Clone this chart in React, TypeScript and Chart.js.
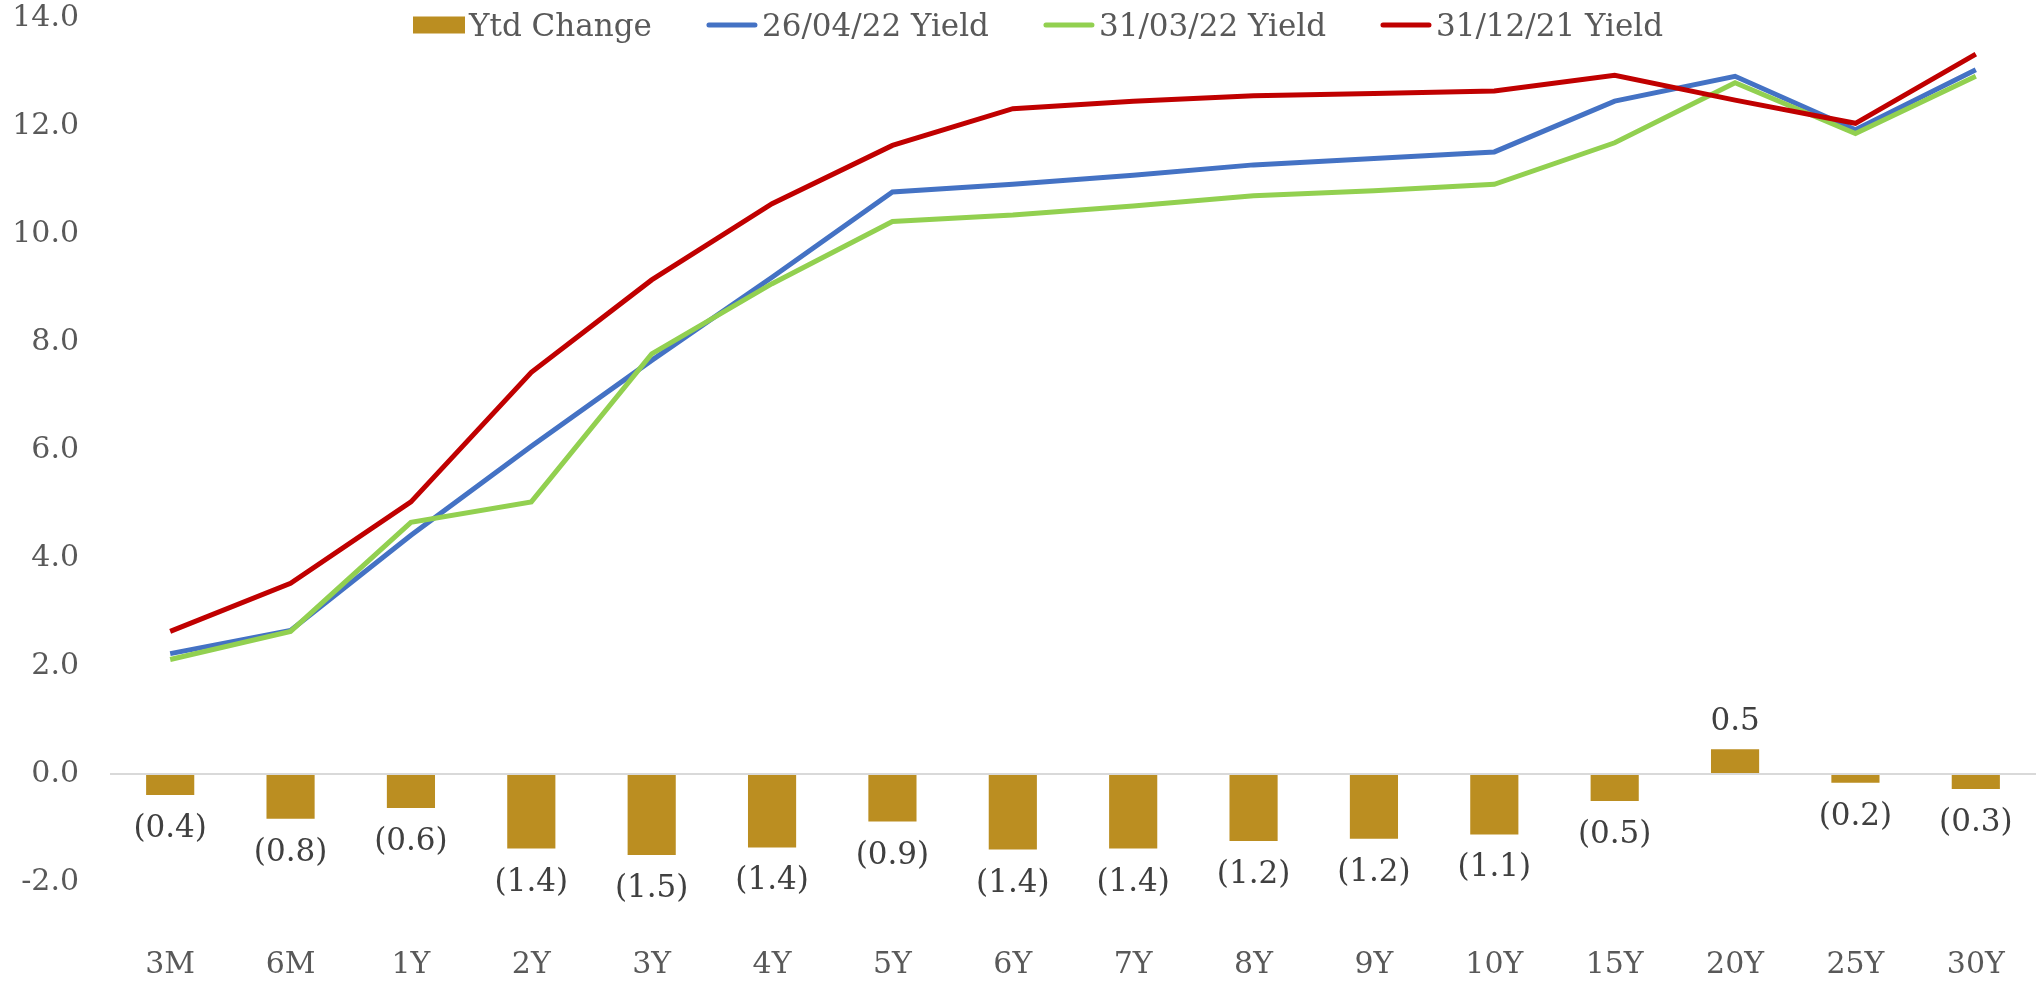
import React, { useEffect, useRef } from 'react';
import { Chart, registerables } from 'chart.js';

Chart.register(...registerables);

const categories = ['3M', '6M', '1Y', '2Y', '3Y', '4Y', '5Y', '6Y', '7Y', '8Y', '9Y', '10Y', '15Y', '20Y', '25Y', '30Y'];
const ytdChange = [-0.39, -0.83, -0.63, -1.38, -1.5, -1.36, -0.88, -1.4, -1.38, -1.24, -1.2, -1.12, -0.5, 0.46, -0.16, -0.28];
const yield260422 = [2.23, 2.66, 4.42, 6.07, 7.66, 9.2, 10.78, 10.92, 11.09, 11.28, 11.4, 11.52, 12.46, 12.92, 11.93, 13.04];
const yield310322 = [2.12, 2.64, 4.66, 5.04, 7.78, 9.08, 10.23, 10.35, 10.52, 10.71, 10.8, 10.92, 11.69, 12.8, 11.86, 12.92];
const yield311221 = [2.64, 3.53, 5.04, 7.44, 9.15, 10.56, 11.64, 12.32, 12.46, 12.56, 12.6, 12.65, 12.94, 12.48, 12.05, 13.33];
const yTicks = [-2, 0, 2, 4, 6, 8, 10, 12, 14];
const seriesLabels = ['Ytd Change', '26/04/22 Yield', '31/03/22 Yield', '31/12/21 Yield'];

const FAMILY = '"DejaVu Serif", serif';
const TEXT = '#595959';
const GOLD = '#BB8E21';
const BLUE = '#4472C4';
const GREEN = '#92D050';
const RED = '#C00000';

const fmt = (v: number) => (v < 0 ? `(${Math.abs(v).toFixed(1)})` : v.toFixed(1));

const customPlugin = {
  id: 'customDecor',
  afterDatasetsDraw(chart: any) {
    const ctx = chart.ctx;
    const meta = chart.getDatasetMeta(0);
    ctx.save();
    ctx.font = `31px ${FAMILY}`;
    ctx.fillStyle = '#404040';
    ctx.textAlign = 'center';
    ctx.textBaseline = 'alphabetic';
    meta.data.forEach((el: any, i: number) => {
      const v = ytdChange[i];
      const y = v < 0 ? el.y + 42 : el.y - 19;
      ctx.fillText(fmt(v), el.x, y);
    });
    ctx.restore();
  },
  afterDraw(chart: any) {
    const ctx = chart.ctx;
    ctx.save();
    ctx.font = `31px ${FAMILY}`;
    const sw = 52;
    const gapST = 4;
    const gapItems = 54;
    const items = chart.data.datasets.map((ds: any) => ({
      label: ds.label,
      color: ds.type === 'bar' ? ds.backgroundColor : ds.borderColor,
      isBar: ds.type === 'bar',
      w: ctx.measureText(ds.label).width,
    }));
    const total = items.reduce((s: number, it: any) => s + sw + gapST + it.w, 0) + gapItems * (items.length - 1);
    let x = 1038 - total / 2;
    const yc = 25;
    items.forEach((it: any) => {
      if (it.isBar) {
        ctx.fillStyle = it.color;
        ctx.fillRect(x, yc - 8.5, sw, 17);
      } else {
        ctx.strokeStyle = it.color;
        ctx.lineWidth = 5;
        ctx.lineCap = 'round';
        ctx.beginPath();
        ctx.moveTo(x + 3, yc);
        ctx.lineTo(x + sw - 3, yc);
        ctx.stroke();
      }
      ctx.fillStyle = TEXT;
      ctx.textAlign = 'left';
      ctx.textBaseline = 'alphabetic';
      ctx.fillText(it.label, x + sw + gapST, 36);
      x += sw + gapST + it.w + gapItems;
    });
    ctx.restore();
  },
};

export default function App() {
  const ref = useRef<HTMLCanvasElement>(null);
  useEffect(() => {
    if (!ref.current) return;
    const font = { family: FAMILY, size: 30, lineHeight: 1 };
    const lineDs = (label: string, data: number[], color: string, order: number) => ({
      type: 'line',
      label,
      data,
      borderColor: color,
      backgroundColor: color,
      borderWidth: 5,
      pointRadius: 0,
      tension: 0,
      order,
    });
    const chart = new Chart(ref.current, {
      type: 'bar',
      data: {
        labels: categories,
        datasets: [
          {
            type: 'bar',
            label: seriesLabels[0],
            data: ytdChange,
            backgroundColor: GOLD,
            barPercentage: 0.4,
            categoryPercentage: 1,
            order: 4,
          } as any,
          lineDs(seriesLabels[1], yield260422, BLUE, 3) as any,
          lineDs(seriesLabels[2], yield310322, GREEN, 2) as any,
          lineDs(seriesLabels[3], yield311221, RED, 1) as any,
        ],
      },
      options: {
        responsive: false,
        animation: false,
        devicePixelRatio: 1,
        layout: { padding: { top: 18, left: 0, right: 0, bottom: 0 } },
        plugins: { legend: { display: false }, tooltip: { enabled: false } },
        scales: {
          x: {
            grid: { display: false },
            border: { display: false },
            ticks: { font, color: TEXT, padding: 6, maxRotation: 0, autoSkip: false },
            afterFit: (s: any) => {
              s.height = 48;
            },
          },
          y: {
            min: -3,
            max: 14,
            afterBuildTicks: (s: any) => {
              s.ticks = yTicks.map((v) => ({ value: v }));
            },
            grid: {
              color: (c: any) => (c.tick && c.tick.value === 0 ? '#D9D9D9' : 'rgba(0,0,0,0)'),
              lineWidth: 2,
              drawTicks: false,
            },
            border: { display: false },
            ticks: {
              font,
              color: TEXT,
              padding: 31,
              callback: (v: any) => Number(v).toFixed(1),
            },
            afterFit: (s: any) => {
              s.width = 110;
              s.paddingTop = 0;
              s.paddingBottom = 0;
            },
          },
        },
      },
      plugins: [customPlugin],
    });
    return () => chart.destroy();
  }, []);
  return (
    <div style={{ position: 'absolute', left: 0, top: 0, width: 2036, height: 984, background: '#fff' }}>
      <canvas ref={ref} width={2036} height={984} style={{ width: 2036, height: 984, display: 'block' }} />
    </div>
  );
}
